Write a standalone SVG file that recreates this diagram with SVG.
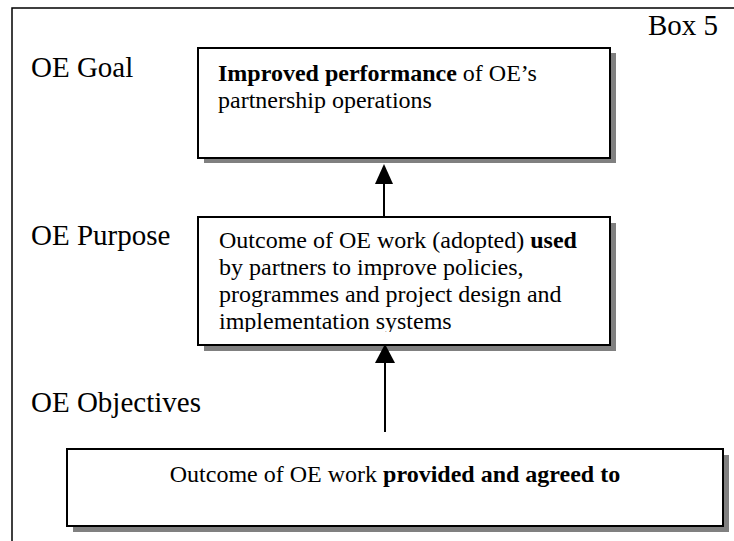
<svg xmlns="http://www.w3.org/2000/svg" width="734" height="541" viewBox="0 0 734 541">
  <style>
    .frame { fill: none; stroke: #000; stroke-width: 1.5; }
    .box { fill: #fff; stroke: #000; stroke-width: 2; }
    .shadow { fill: #808080; }
    .label { font-size: 29px; fill: #000; }
    .txt { font-size: 24px; fill: #000; }
    .b { font-weight: bold; }
    .conn { stroke: #000; stroke-width: 2; fill: none; }
  </style>
  <defs>
    <!-- text frame of the purpose box: the last line is cut at the frame edge -->
    <clipPath id="purposeClip">
      <rect x="200" y="219" width="408" height="113"/>
    </clipPath>
  </defs>

  <rect id="page-white" x="0" y="0" width="734" height="541" fill="#fff"/>

  <!-- outer frame: open to the right and bottom -->
  <path class="frame" d="M12,541 L12,8 L734,8"/>

  <g font-family="Liberation Serif, DejaVu Serif, serif">
    <text class="label" x="648" y="35">Box 5</text>
    <text class="label" x="31" y="77">OE Goal</text>
    <text class="label" x="31" y="245">OE Purpose</text>
    <text class="label" x="31" y="412">OE Objectives</text>

    <!-- connectors -->
    <g id="connectors">
      <line class="conn" x1="384" y1="217" x2="384" y2="184"/>
      <polygon points="384,164 375,184 393,184" fill="#000"/>
      <line class="conn" x1="385" y1="432" x2="385" y2="362"/>
    </g>

    <g id="goal">
      <rect class="shadow" x="204" y="53" width="412" height="110"/>
      <rect class="box" x="198" y="48" width="412" height="110"/>
      <text class="txt" x="218" y="81"><tspan class="b">Improved performance</tspan> of OE’s</text>
      <text class="txt" x="218" y="108">partnership operations</text>
    </g>

    <g id="purpose">
      <rect class="shadow" x="204" y="223" width="412" height="128"/>
      <rect class="box" x="198" y="217" width="412" height="128"/>
      <g clip-path="url(#purposeClip)">
        <text class="txt" x="219" y="248">Outcome of OE work (adopted) <tspan class="b">used</tspan></text>
        <text class="txt" x="219" y="275">by partners to improve policies,</text>
        <text class="txt" x="219" y="302">programmes and project design and</text>
        <text class="txt" x="219" y="329">implementation systems</text>
      </g>
    </g>

    <!-- lower arrowhead sits over the purpose box edge -->
    <polygon id="arrowhead-lower" points="385,344 375,363 395,363" fill="#000"/>

    <g id="objectives">
      <rect class="shadow" x="73" y="455" width="656" height="77"/>
      <rect class="box" x="67" y="449" width="656" height="77"/>
      <text class="txt" x="395" y="482" text-anchor="middle">Outcome of OE work <tspan class="b">provided and agreed to</tspan></text>
    </g>
  </g>
</svg>
